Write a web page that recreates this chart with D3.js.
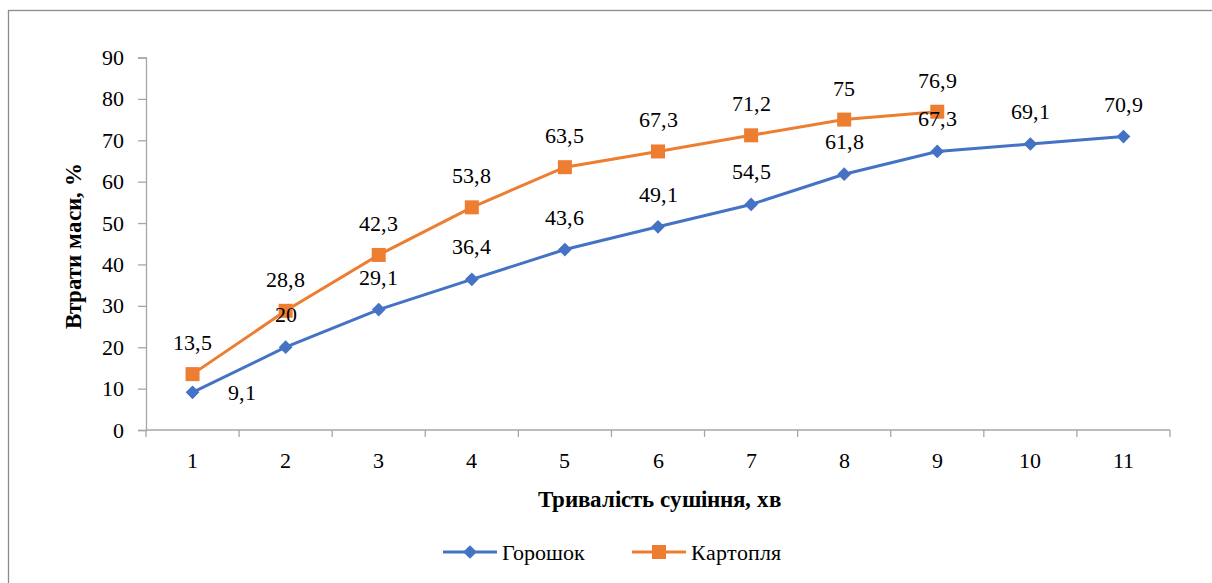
<!DOCTYPE html>
<html>
<head>
<meta charset="utf-8">
<script src="https://cdn.jsdelivr.net/npm/d3@7"></script>
<style>
  @font-face { font-family: "ChartSerif"; src: local("Liberation Serif"), local("LiberationSerif"), local("Liberation Serif Regular"), local("LiberationSerif-Regular"); font-weight: normal; }
  @font-face { font-family: "ChartSerif"; src: local("Liberation Serif Bold"), local("LiberationSerif-Bold"); font-weight: bold; }
  body { margin: 0; }
</style>
</head>
<body>
<script>
// chart data
var categories = [1, 2, 3, 4, 5, 6, 7, 8, 9, 10, 11];
var goroshok = [9.1, 20, 29.1, 36.4, 43.6, 49.1, 54.5, 61.8, 67.3, 69.1, 70.9];
var kartoplia = [13.5, 28.8, 42.3, 53.8, 63.5, 67.3, 71.2, 75, 76.9];
var yTicks = [0, 10, 20, 30, 40, 50, 60, 70, 80, 90];
var seriesNames = ["Горошок", "Картопля"];

var svgWidth = 1212, svgHeight = 583;
var margin = { top: 57.5, left: 146, right: 42, bottom: 153 };
var chartWidth = svgWidth - margin.left - margin.right;
var chartHeight = svgHeight - margin.top - margin.bottom;

var blue = "#4472C4", orange = "#ED7D31", axisGrey = "#a6a6a6";
var serif = "ChartSerif, 'Liberation Serif'";

var svg = d3.select("body").append("svg")
    .attr("width", svgWidth)
    .attr("height", svgHeight)
    .style("font-family", serif);

// helper: every text gets the serif face inline
function addText(parent, str, x, y, size) {
  return parent.append("text")
    .attr("x", x).attr("y", y)
    .attr("font-size", size)
    .style("font-family", serif)
    .text(str);
}

// outer frame (only top and left visible)
svg.append("rect")
    .attr("x", 8.5).attr("y", 10.5)
    .attr("width", 1300).attr("height", 700)
    .attr("fill", "none")
    .attr("stroke", "#8c8c8c")
    .attr("stroke-width", 1.3);

var chartGroup = svg.append("g")
    .attr("transform", `translate(${margin.left}, ${margin.top})`);

var xScale = d3.scaleBand()
    .domain(categories)
    .range([0, chartWidth]);

var yScale = d3.scaleLinear()
    .domain([0, 90])
    .range([chartHeight, 0]);

var cx = function(c) { return xScale(c) + xScale.bandwidth() / 2; };

// y axis
var yAxis = d3.axisLeft(yScale).tickValues(yTicks).tickSize(8).tickPadding(14);
var yG = chartGroup.append("g").call(yAxis);
yG.attr("font-family", null).attr("font-size", null);
yG.select(".domain").attr("stroke", axisGrey).attr("stroke-width", 1.3);
yG.selectAll(".tick line").attr("stroke", axisGrey).attr("stroke-width", 1.3);
yG.selectAll(".tick text")
    .attr("fill", "#000")
    .attr("font-size", 22)
    .style("font-family", serif);

// x axis with ticks at band edges
var xG = chartGroup.append("g")
    .attr("transform", `translate(0, ${chartHeight})`);
xG.append("line")
    .attr("x1", 0).attr("x2", chartWidth)
    .attr("stroke", axisGrey).attr("stroke-width", 1.3);
var edges = categories.map(function(c) { return xScale(c); }).concat([chartWidth]);
xG.selectAll(".xtick").data(edges).enter().append("line")
    .attr("x1", d => d).attr("x2", d => d)
    .attr("y1", 0).attr("y2", 7)
    .attr("stroke", axisGrey).attr("stroke-width", 1.3);
categories.forEach(function(c) {
  addText(xG, c, cx(c), 38, 22).attr("text-anchor", "middle");
});

// axis titles
addText(svg, "Тривалість сушіння, хв", 659, 507, 23)
    .attr("text-anchor", "middle")
    .attr("font-weight", "bold");

addText(svg, "Втрати маси, %", 0, 0, 23)
    .attr("transform", "translate(81, 246) rotate(-90)")
    .attr("text-anchor", "middle")
    .attr("font-weight", "bold");

var line = d3.line()
    .x(d => cx(d.c))
    .y(d => yScale(d.v));

var gData = goroshok.map((v, i) => ({ c: categories[i], v: v }));
var kData = kartoplia.map((v, i) => ({ c: categories[i], v: v }));

chartGroup.append("path").datum(gData)
    .attr("d", line).attr("fill", "none")
    .attr("stroke", blue).attr("stroke-width", 3);
chartGroup.append("path").datum(kData)
    .attr("d", line).attr("fill", "none")
    .attr("stroke", orange).attr("stroke-width", 3);

var diamond = d3.symbol().type(d3.symbolDiamond2).size(120);
chartGroup.selectAll(".gpt").data(gData).enter().append("path")
    .attr("transform", d => `translate(${cx(d.c)}, ${yScale(d.v)})`)
    .attr("d", diamond)
    .attr("fill", blue);

chartGroup.selectAll(".kpt").data(kData).enter().append("rect")
    .attr("x", d => cx(d.c) - 7)
    .attr("y", d => yScale(d.v) - 7)
    .attr("width", 14).attr("height", 14)
    .attr("fill", orange);

var fmt = function(v) { return String(v).replace(".", ","); };

// data labels
gData.forEach(function(d, i) {
  if (i === 0) {
    addText(chartGroup, fmt(d.v), cx(d.c) + 35, yScale(d.v) + 8, 22);
  } else {
    addText(chartGroup, fmt(d.v), cx(d.c), yScale(d.v) - 25, 22).attr("text-anchor", "middle");
  }
});
kData.forEach(function(d) {
  addText(chartGroup, fmt(d.v), cx(d.c), yScale(d.v) - 24, 22).attr("text-anchor", "middle");
});

// legend
var legend = svg.append("g").attr("transform", "translate(0, 552)");
var legendItems = [
  { name: seriesNames[0], color: blue, x: 443, marker: "diamond" },
  { name: seriesNames[1], color: orange, x: 632, marker: "square" }
];
legendItems.forEach(function(it) {
  legend.append("line")
    .attr("x1", it.x).attr("x2", it.x + 54)
    .attr("stroke", it.color).attr("stroke-width", 3);
  if (it.marker === "diamond") {
    legend.append("path")
      .attr("transform", `translate(${it.x + 27}, 0)`)
      .attr("d", diamond).attr("fill", it.color);
  } else {
    legend.append("rect")
      .attr("x", it.x + 20).attr("y", -7)
      .attr("width", 14).attr("height", 14)
      .attr("fill", it.color);
  }
  addText(legend, it.name, it.x + 59, 8, 22);
});
</script>
</body>
</html>
